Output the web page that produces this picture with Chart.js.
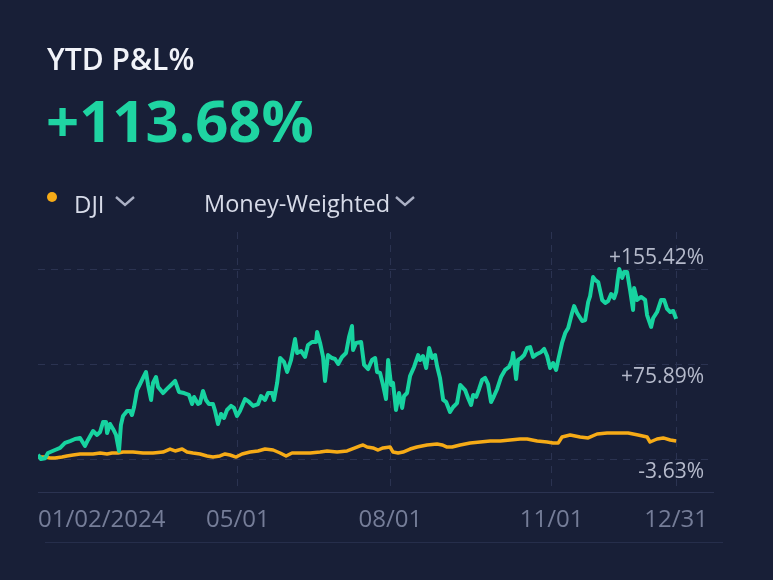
<!DOCTYPE html>
<html>
<head>
<meta charset="utf-8">
<script src="https://cdn.jsdelivr.net/npm/chart.js@4.4.1/dist/chart.umd.min.js"></script>
<style>
  html, body { margin: 0; padding: 0; background: #181f37; }
  body { width: 773px; height: 580px; position: relative; overflow: hidden; font-family: "Open Sans", "Noto Sans", sans-serif; }
  #chart { position: absolute; left: 0; top: 0; }
  .t { position: absolute; white-space: nowrap; line-height: 1; }
  #title { left: 47px; top: 44px; font-size: 30px; font-weight: 600; color: #f1f3f9; }
  #value { left: 46px; top: 91px; font-size: 58px; font-weight: 700; color: #1fd4a2; }
  #dot { position: absolute; left: 47px; top: 192px; width: 10px; height: 10px; border-radius: 50%; background: #f6ab17; }
  #dji { left: 74px; top: 192px; font-size: 24px; color: #d7dbe8; }
  #mw { left: 204px; top: 192px; font-size: 23.5px; color: #d7dbe8; }
  .chev { position: absolute; top: 195px; }
  #sep { position: absolute; left: 45px; top: 542px; width: 678px; height: 1px; background: #262e4b; }
</style>
</head>
<body>
<canvas id="chart" width="773" height="580"></canvas>
<div class="t" id="title">YTD P&amp;L%</div>
<div class="t" id="value">+113.68%</div>
<div id="dot"></div>
<div class="t" id="dji">DJI</div>
<svg class="chev" style="left:114px" width="22" height="12"><polyline points="2,2 11,10 20,2" fill="none" stroke="#aab0c4" stroke-width="2.4"/></svg>
<div class="t" id="mw">Money-Weighted</div>
<svg class="chev" style="left:394px" width="22" height="12"><polyline points="2,2 11,10 20,2" fill="none" stroke="#aab0c4" stroke-width="2.4"/></svg>
<div id="sep"></div>

<script>
// days since 01/02/2024 and YTD P&L % of the account
const greenDays = [
  0, 1.7, 4.0, 5.7, 9.7, 12.6, 15.4, 18.3, 21.1, 24.0,
  26.8, 28.5, 31.4, 33.7, 35.4, 37.1, 38.8, 39.4, 41.1, 42.8,
  44.5, 46.2, 47.3, 48.5, 50.8, 52.5, 53.6, 54.8, 56.5, 58.2,
  59.9, 61.6, 62.8, 64.5, 65.6, 67.3, 68.5, 71.3, 73.6, 75.9,
  78.2, 80.4, 83.3, 86.1, 87.9, 89.0, 91.3, 92.4, 94.1, 95.8,
  97.5, 99.8, 101.0, 102.7, 104.4, 106.1, 107.8, 110.1, 111.8, 113.5,
  115.2, 118.1, 120.4, 122.7, 125.5, 127.2, 129.5, 131.2, 133.5, 134.6,
  136.4, 138.1, 140.3, 142.1, 144.3, 146.6, 147.8, 150.0, 152.3, 154.0,
  156.3, 158.6, 159.2, 160.9, 162.6, 163.7, 165.4, 167.7, 169.4, 171.2,
  173.4, 175.7, 177.4, 179.1, 179.7, 181.4, 184.3, 186.0, 188.3, 190.5,
  192.3, 193.4, 195.1, 196.8, 198.5, 199.7, 201.4, 202.5, 204.2, 205.9,
  207.7, 208.8, 210.5, 212.2, 214.5, 216.8, 217.9, 219.6, 221.4, 223.1,
  224.8, 226.5, 227.6, 229.3, 231.1, 232.8, 235.0, 236.8, 239.0, 240.8,
  243.6, 245.3, 247.0, 248.2, 249.9, 251.6, 253.3, 255.0, 256.7, 258.4,
  260.1, 261.9, 264.1, 266.4, 268.7, 270.4, 271.0, 272.7, 273.8, 275.6,
  277.3, 279.0, 280.7, 282.4, 284.7, 287.0, 288.7, 290.4, 292.1, 293.8,
  295.5, 296.7, 298.9, 300.7, 302.4, 304.6, 305.8, 307.5, 310.4, 312.1,
  313.8, 314.9, 316.6, 317.8, 319.5, 321.8, 323.5, 325.2, 326.9, 328.6,
  329.8, 330.9, 331.5, 333.2, 334.3, 336.0, 337.7, 339.4, 340.0, 341.7,
  344.0, 346.3, 347.4, 349.7, 350.9, 353.1, 355.4, 357.1, 358.8, 360.6,
  362.3, 364.0
];
const greenPct = [
  0, -3.63, -3.0, 1.4, 3.9, 5.6, 9.8, 11.4, 13.1, 13.9,
  7.3, 12.3, 19.8, 16.5, 19.0, 27.3, 27.3, 18.1, 25.7, 21.5,
  16.5, 3.1, 24.9, 32.4, 36.5, 36.5, 33.2, 39.9, 54.1, 59.1,
  64.2, 69.2, 58.3, 45.8, 60.0, 65.0, 56.6, 51.6, 55.0, 58.3,
  61.7, 52.5, 51.6, 50.0, 42.4, 48.3, 42.4, 43.2, 53.3, 45.8,
  42.4, 42.4, 36.6, 25.7, 34.1, 30.7, 37.4, 40.8, 39.1, 32.4,
  36.6, 46.6, 44.1, 40.8, 42.4, 49.1, 45.8, 51.6, 51.6, 45.8,
  60.0, 80.9, 77.6, 69.2, 79.2, 96.8, 85.1, 86.8, 81.8, 91.8,
  94.3, 94.3, 102.7, 93.5, 81.8, 61.7, 83.4, 80.9, 80.1, 75.9,
  81.8, 85.1, 98.5, 107.7, 87.6, 93.5, 94.3, 75.1, 71.7, 79.2,
  80.9, 69.2, 68.4, 58.3, 46.6, 79.2, 58.3, 60.0, 37.4, 51.6,
  39.1, 49.1, 51.6, 65.8, 73.4, 83.4, 79.2, 82.6, 72.5, 89.3,
  80.9, 83.4, 74.2, 64.2, 45.8, 44.1, 35.7, 39.9, 43.2, 58.3,
  54.1, 47.4, 41.6, 50.0, 48.3, 55.0, 62.5, 64.2, 59.1, 44.1,
  49.1, 55.0, 65.0, 70.9, 73.4, 79.2, 85.1, 63.3, 79.2, 80.9,
  83.4, 89.3, 90.1, 81.8, 84.3, 86.0, 88.5, 82.6, 72.5, 76.7,
  70.9, 79.2, 93.5, 101.8, 106.0, 118.6, 124.4, 118.6, 111.9, 112.7,
  127.8, 132.8, 148.7, 146.2, 144.5, 129.5, 127.0, 128.6, 134.5, 131.1,
  136.2, 149.6, 155.42, 147.9, 152.9, 152.9, 137.8, 121.1, 139.5, 129.5,
  132.0, 129.5, 116.9, 106.9, 114.4, 119.4, 129.5, 129.5, 122.0, 119.4,
  120.3, 113.68
];

// DJI benchmark
const djiDays = [
  0, 4.0, 6.8, 9.7, 13.7, 16.5, 20.0, 24.0, 28.0, 31.4,
  35.4, 39.4, 42.2, 45.6, 48.5, 54.2, 59.9, 65.6, 71.3, 75.3,
  78.2, 82.2, 85.0, 88.4, 92.4, 96.4, 99.8, 103.8, 106.7, 109.5,
  113.0, 116.4, 120.9, 125.5, 129.5, 134.1, 138.1, 141.5, 144.9, 149.5,
  155.2, 160.9, 164.9, 170.6, 176.3, 180.8, 183.7, 185.4, 187.7, 191.1,
  194.0, 196.8, 200.8, 202.5, 205.4, 208.2, 212.2, 216.2, 221.9, 227.6,
  230.5, 233.3, 236.2, 240.8, 246.5, 252.2, 257.9, 263.6, 269.3, 275.0,
  279.0, 284.7, 290.4, 293.8, 296.7, 298.9, 303.5, 309.2, 313.8, 318.9,
  324.6, 330.9, 336.6, 342.3, 347.4, 349.1, 353.1, 356.6, 360.6, 364.0
];
const djiPct = [
  -1.9, -2.0, -2.8, -2.8, -2.0, -1.1, -0.3, 0.6, 0.6, 0.6,
  1.4, 0.6, 1.4, 1.4, 2.2, 2.2, 1.4, 1.4, 2.2, 4.7,
  3.1, 4.7, 2.2, 1.4, 0.6, -1.1, -2.0, -1.1, 0.6, -0.3,
  -2.0, 0.6, 2.2, 3.1, 4.7, 3.9, 1.4, -1.1, 1.4, 1.4,
  1.4, 2.2, 3.1, 2.2, 3.1, 5.6, 7.3, 8.1, 6.4, 5.6,
  3.9, 5.6, 6.4, 2.2, 1.4, 2.2, 4.7, 6.4, 8.1, 8.9,
  8.1, 6.4, 6.4, 8.1, 9.8, 10.6, 11.4, 11.4, 12.3, 13.1,
  13.1, 11.4, 10.6, 9.8, 9.8, 14.8, 16.5, 14.8, 14.0, 17.3,
  18.1, 18.1, 18.1, 16.5, 14.8, 10.6, 13.1, 14.0, 12.3, 11.4
];

const xTickDays = [0, 114, 201, 293, 364];
const xTickLabels = ['01/02/2024', '05/01', '08/01', '11/01', '12/31'];
const yTickValues = [-3.63, 75.89, 155.42];

const gridColor = '#2b3351';
const lo = Math.min(...yTickValues), hi = Math.max(...yTickValues);
const span = hi - lo;

const tickText = {
  id: 'tickText',
  afterDraw(chart) {
    const {ctx, chartArea, scales: {x, y}} = chart;
    ctx.save();
    ctx.font = '21px "Open Sans"';
    ctx.fillStyle = '#b5bacb';
    ctx.textAlign = 'right';
    ctx.textBaseline = 'alphabetic';
    yTickValues.forEach(v => {
      const py = y.getPixelForValue(v);
      const label = (v > 0 ? '+' : '') + v.toFixed(2) + '%';
      ctx.fillText(label, chartArea.right - 9, v === hi ? py - 5 : py + 19);
    });
    ctx.font = '24px "Open Sans"';
    ctx.fillStyle = '#757d98';
    ctx.textAlign = 'left';
    xTickDays.forEach((d, i) => {
      const w = ctx.measureText(xTickLabels[i]).width;
      const px = Math.max(x.getPixelForValue(d) - w / 2, chartArea.left);
      ctx.fillText(xTickLabels[i], px, chartArea.bottom + 35);
    });
    ctx.restore();
  }
};

new Chart(document.getElementById('chart'), {
  type: 'line',
  data: {
    datasets: [{
      label: 'P&L%',
      data: greenDays.map((d, i) => ({x: d, y: greenPct[i]})),
      borderColor: '#17d3a0',
      borderWidth: 4,
      pointRadius: 0,
      borderJoinStyle: 'round',
      tension: 0
    }, {
      label: 'DJI',
      data: djiDays.map((d, i) => ({x: d, y: djiPct[i]})),
      borderColor: '#f6ab17',
      borderWidth: 3.5,
      pointRadius: 0,
      borderJoinStyle: 'round',
      tension: 0
    }]
  },
  options: {
    responsive: false,
    animation: false,
    layout: { padding: { left: 38, right: 60, top: 232, bottom: 88 } },
    plugins: { legend: { display: false }, tooltip: { enabled: false } },
    scales: {
      x: {
        type: 'linear',
        min: 0,
        max: 385,
        afterBuildTicks: axis => { axis.ticks = xTickDays.map(v => ({value: v})); },
        ticks: { display: false },
        grid: {
          color: c => c.index === 0 ? 'rgba(0,0,0,0)' : gridColor,
          drawTicks: false,
          lineWidth: 1
        },
        border: { display: true, color: gridColor, width: 1, dash: [7, 6] }
      },
      y: {
        min: lo - span * 33 / 190,
        max: hi + span * 37 / 190,
        afterBuildTicks: axis => { axis.ticks = yTickValues.map(v => ({value: v})); },
        ticks: { display: false },
        grid: { color: gridColor, drawTicks: false, lineWidth: 1 },
        border: { display: false, dash: [7, 6] }
      }
    }
  },
  plugins: [tickText]
});
</script>
</body>
</html>
